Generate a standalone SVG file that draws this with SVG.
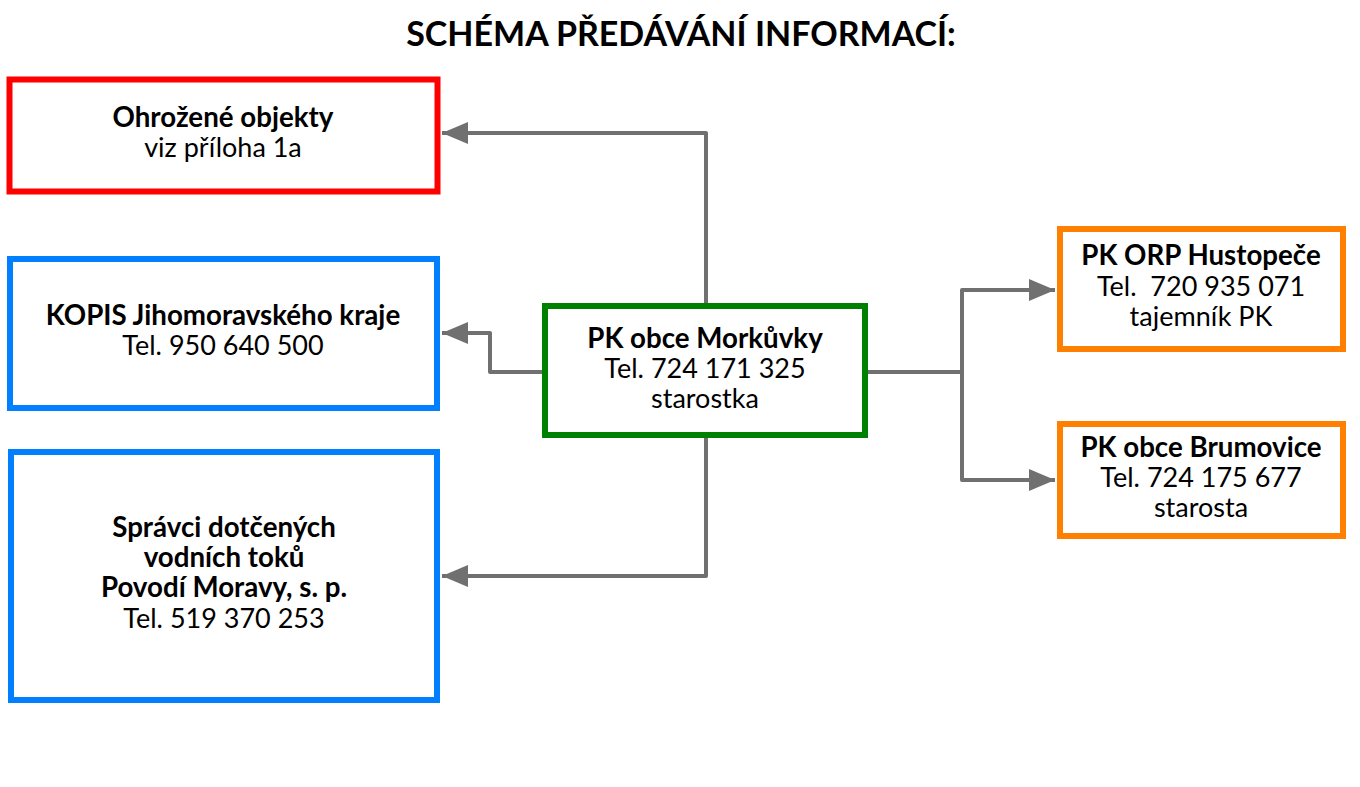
<svg xmlns="http://www.w3.org/2000/svg" width="1360" height="787" viewBox="0 0 1360 787">
<defs>
<style>
text{font-family:Lato,"Open Sans","Liberation Sans",sans-serif;fill:#000;text-anchor:middle}
.t{font-size:34px;font-weight:bold}
.b{font-size:27.7px;font-weight:bold}
.n{font-size:27px}
.box{fill:#fff;stroke-width:6}
.red{stroke:#ff0000}
.blue{stroke:#0080ff}
.green{stroke:#008000}
.orange{stroke:#ff8000}
.c{fill:none;stroke:#707070;stroke-width:4;stroke-linejoin:round}
</style>
<marker id="ah" viewBox="0 0 26 22" refX="26" refY="11" markerWidth="26" markerHeight="22" markerUnits="userSpaceOnUse" orient="auto">
<path d="M0,0 L26,11 L0,22 Z" fill="#707070"/>
</marker>
</defs>
<rect width="1360" height="787" fill="#fff"/>
<text class="t" x="681" y="46">SCHÉMA PŘEDÁVÁNÍ INFORMACÍ:</text>
<g id="connectors">
<polyline class="c" points="706,303 706,133 442,133" marker-end="url(#ah)"/>
<polyline class="c" points="542,372 490,372 490,333 442,333" marker-end="url(#ah)"/>
<polyline class="c" points="706,438 706,576 442,576" marker-end="url(#ah)"/>
<polyline class="c" points="868,372 962,372"/>
<polyline class="c" points="962,372 962,290 1055,290" marker-end="url(#ah)"/>
<polyline class="c" points="962,372 962,480 1055,480" marker-end="url(#ah)"/>
</g>
<g id="ohrozene">
<rect class="box red" x="9.5" y="79.5" width="428" height="112"/>
<text class="b" x="223" y="127">Ohrožené objekty</text>
<text class="n" x="223" y="157">viz příloha 1a</text>
</g>
<g id="kopis">
<rect class="box blue" x="10" y="259" width="427" height="149"/>
<text class="b" x="223" y="325">KOPIS Jihomoravského kraje</text>
<text class="n" x="223" y="355">Tel. 950 640 500</text>
</g>
<g id="spravci">
<rect class="box blue" x="11" y="452" width="426" height="248"/>
<text class="b" x="224" y="537">Správci dotčených</text>
<text class="b" x="224" y="567">vodních toků</text>
<text class="b" x="224" y="597">Povodí Moravy, s. p.</text>
<text class="n" x="224" y="628">Tel. 519 370 253</text>
</g>
<g id="morkuvky">
<rect class="box green" x="545" y="306" width="320" height="129"/>
<text class="b" x="705" y="348">PK obce Morkůvky</text>
<text class="n" x="705" y="378">Tel. 724 171 325</text>
<text class="n" x="705" y="408">starostka</text>
</g>
<g id="hustopece">
<rect class="box orange" x="1060" y="229" width="283" height="120"/>
<text class="b" x="1201" y="265">PK ORP Hustopeče</text>
<text class="n" x="1201" y="296" xml:space="preserve">Tel.  720 935 071</text>
<text class="n" x="1201" y="326">tajemník PK</text>
</g>
<g id="brumovice">
<rect class="box orange" x="1060" y="424" width="283" height="112"/>
<text class="b" x="1201" y="457">PK obce Brumovice</text>
<text class="n" x="1201" y="487">Tel. 724 175 677</text>
<text class="n" x="1201" y="517">starosta</text>
</g>
</svg>
